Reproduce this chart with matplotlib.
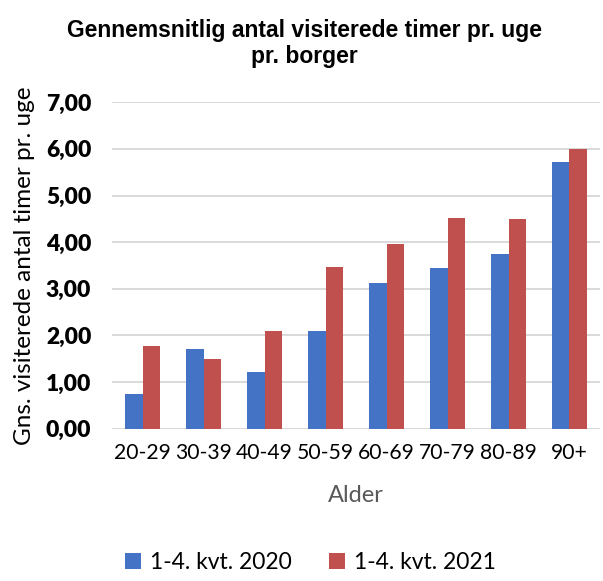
import numpy as np
import matplotlib.pyplot as plt

ages = ["20-29", "30-39", "40-49", "50-59", "60-69", "70-79", "80-89", "90+"]
v2020 = [0.74, 1.70, 1.22, 2.09, 3.12, 3.44, 3.75, 5.71]
v2021 = [1.77, 1.49, 2.10, 3.47, 3.97, 4.51, 4.49, 5.99]
yticks = [0, 1, 2, 3, 4, 5, 6, 7]
ytick_labels = ["0,00", "1,00", "2,00", "3,00", "4,00", "5,00", "6,00", "7,00"]

blue = "#4472C4"
red = "#C0504D"

fig = plt.figure(figsize=(6.03, 5.81), dpi=100)
ax = fig.add_axes([0.186, 0.262, 0.809, 0.562])

x = np.arange(len(ages))
w = 0.29
ax.bar(x - w / 2, v2020, w, color=blue, label="1-4. kvt. 2020", zorder=3)
ax.bar(x + w / 2, v2021, w, color=red, label="1-4. kvt. 2021", zorder=3)

ax.set_xlim(-0.5, len(ages) - 0.5)
ax.set_ylim(0, 7)
ax.set_yticks(yticks)
ax.set_yticklabels(ytick_labels, fontfamily="Lato", fontweight="heavy", fontsize=16.5)
ax.set_xticks(x)
ax.set_xticklabels(ages, fontfamily="Lato", fontsize=15.2)
ax.tick_params(length=0)
ax.tick_params(axis="y", pad=15)
ax.tick_params(axis="x", pad=10)
ax.grid(axis="y", color="#D9D9D9", linewidth=1.4, zorder=0)
for s in ax.spines.values():
    s.set_visible(False)

ax.set_xlabel("Alder", fontfamily="Lato", fontsize=17, color="#595959", labelpad=16)
ax.set_ylabel("Gns. visiterede antal timer pr. uge", fontfamily="Lato", fontsize=17.5, labelpad=8)

fig.text(0.505, 0.925, "Gennemsnitlig antal visiterede timer pr. uge\npr. borger",
         ha="center", va="center", fontfamily="Liberation Sans", fontweight="bold",
         fontsize=16.5, linespacing=1.15)

fig.legend(loc="lower center", bbox_to_anchor=(0.515, -0.022), ncol=2, frameon=False,
           prop={"family": "Lato", "size": 16.5}, handlelength=0.7, handleheight=0.7,
           columnspacing=1.6, handletextpad=0.4)

fig.savefig("out.png", dpi=100)
